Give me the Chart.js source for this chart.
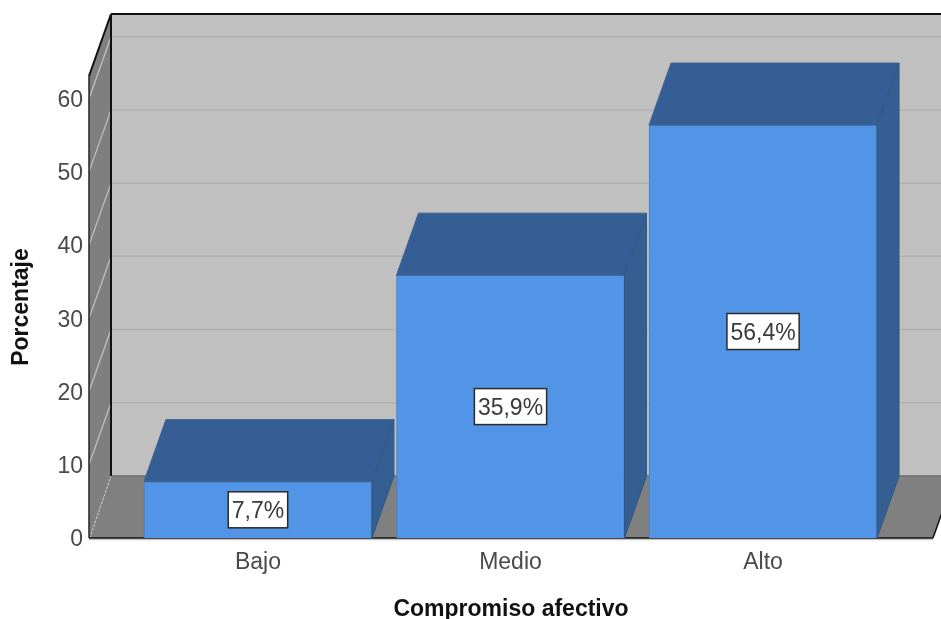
<!DOCTYPE html>
<html>
<head>
<meta charset="utf-8">
<title>Compromiso afectivo</title>
<script src="https://cdn.jsdelivr.net/npm/chart.js@4"></script>
<style>
    html, body { margin: 0; padding: 0; background: #fff; overflow: hidden; }
    canvas { display: block; }
</style>
</head>
<body>
<canvas id="chart" width="941" height="619"></canvas>
<script>
const categories = ['Bajo', 'Medio', 'Alto'];
const percentages = [7.7, 35.9, 56.4];
const yTicks = [0, 10, 20, 30, 40, 50, 60];

const FONT = '"Liberation Sans", Arial, sans-serif';
// Depth of the fake 3D box, in pixels
const DEPTH_X = 22;
const DEPTH_Y = 62;

function polygon(ctx, points, fill, stroke) {
    ctx.beginPath();
    points.forEach((p, i) => i ? ctx.lineTo(p[0], p[1]) : ctx.moveTo(p[0], p[1]));
    ctx.closePath();
    ctx.fillStyle = fill;
    ctx.fill();
    if (stroke) {
        ctx.strokeStyle = stroke;
        ctx.lineWidth = 1;
        ctx.stroke();
    }
}

function line(ctx, x1, y1, x2, y2, color, width, dash) {
    ctx.beginPath();
    ctx.setLineDash(dash || []);
    ctx.moveTo(x1, y1);
    ctx.lineTo(x2, y2);
    ctx.strokeStyle = color;
    ctx.lineWidth = width;
    ctx.stroke();
    ctx.setLineDash([]);
}

// Back wall, side wall and floor
const roomPlugin = {
    id: 'room',
    beforeDatasetsDraw(chart) {
        const ctx = chart.ctx;
        const area = chart.chartArea;
        const y = chart.scales.y;
        const top = y.getPixelForValue(y.max);
        const floor = y.getPixelForValue(0);
        const l = area.left, r = area.right;

        ctx.save();
        polygon(ctx, [[l + DEPTH_X, top - DEPTH_Y], [r + DEPTH_X, top - DEPTH_Y], [r + DEPTH_X, floor - DEPTH_Y], [l + DEPTH_X, floor - DEPTH_Y]], '#c0c0c0');
        polygon(ctx, [[l, top], [l + DEPTH_X, top - DEPTH_Y], [l + DEPTH_X, floor - DEPTH_Y], [l, floor]], '#7f7f7f');
        polygon(ctx, [[l, floor], [l + DEPTH_X, floor - DEPTH_Y], [r + DEPTH_X, floor - DEPTH_Y], [r, floor]], '#808080');

        yTicks.forEach(v => {
            const py = y.getPixelForValue(v);
            if (v === 0) {
                line(ctx, l + 1, py, l + DEPTH_X, py - DEPTH_Y, '#d0d0d0', 1, [2, 2]);
            } else {
                line(ctx, l + DEPTH_X, py - DEPTH_Y, r + DEPTH_X, py - DEPTH_Y, '#b0b0b0', 1.5);
                line(ctx, l, py, l + DEPTH_X, py - DEPTH_Y, '#c4c4c4', 1.2);
            }
        });

        line(ctx, l + DEPTH_X, floor - DEPTH_Y, r + DEPTH_X, floor - DEPTH_Y, '#6e6e6e', 1.5);
        line(ctx, l, top, l, floor, '#222', 1.5);
        line(ctx, l, top, l + DEPTH_X, top - DEPTH_Y, '#111', 2);
        line(ctx, l + DEPTH_X, top - DEPTH_Y, l + DEPTH_X, floor - DEPTH_Y, '#111', 2);
        line(ctx, l + DEPTH_X, top - DEPTH_Y, chart.width, top - DEPTH_Y, '#111', 2);
        line(ctx, r, floor, r + DEPTH_X, floor - DEPTH_Y, '#111', 1.5);
        line(ctx, l, floor + 1.5, r, floor + 1.5, '#c8c8c8', 1.5);
        line(ctx, l, floor, r, floor, '#111', 1.5);
        ctx.restore();
    },
    // Top and side faces of the bars, then the value boxes
    afterDatasetsDraw(chart) {
        const ctx = chart.ctx;
        const bars = chart.getDatasetMeta(0).data;
        ctx.save();
        bars.forEach(bar => {
            const p = bar.getProps(['x', 'y', 'base', 'width'], true);
            const l = p.x - p.width / 2, r = p.x + p.width / 2;
            polygon(ctx, [[l, p.y], [l + DEPTH_X, p.y - DEPTH_Y], [r + DEPTH_X, p.y - DEPTH_Y], [r, p.y]], '#355f94', '#3f638f');
            polygon(ctx, [[r, p.y], [r + DEPTH_X, p.y - DEPTH_Y], [r + DEPTH_X, p.base - DEPTH_Y], [r, p.base]], '#355f92', '#2f5684');
        });

        ctx.font = '23px ' + FONT;
        ctx.textAlign = 'center';
        ctx.textBaseline = 'middle';
        bars.forEach((bar, i) => {
            const p = bar.getProps(['x', 'y', 'base'], true);
            const cy = (p.y + p.base) / 2;
            const text = percentages[i].toFixed(1).replace('.', ',') + '%';
            const w = ctx.measureText(text).width + 7;
            ctx.fillStyle = '#fff';
            ctx.fillRect(p.x - w / 2, cy - 18, w, 36);
            ctx.strokeStyle = '#2b2b2b';
            ctx.lineWidth = 1.5;
            ctx.strokeRect(p.x - w / 2, cy - 18, w, 36);
            ctx.fillStyle = '#3a3a3a';
            ctx.fillText(text, p.x, cy + 2);
        });
        ctx.restore();
    }
};

new Chart(document.getElementById('chart').getContext('2d'), {
    type: 'bar',
    data: {
        datasets: [{
            label: 'Porcentaje',
            data: percentages.map((v, i) => ({ x: i, y: v })),
            backgroundColor: '#5294e6',
            borderColor: '#4a7fc2',
            borderWidth: 1,
            barThickness: 228
        }]
    },
    options: {
        responsive: false,
        animation: false,
        layout: { padding: { top: 76, right: 8, left: 0, bottom: 0 } },
        plugins: {
            legend: { display: false },
            title: { display: false },
            tooltip: { enabled: false }
        },
        scales: {
            x: {
                type: 'linear',
                offset: false,
                min: -0.669,
                max: 2.673,
                afterFit(scale) { scale.height = 81; },
                afterBuildTicks(scale) { scale.ticks = categories.map((c, i) => ({ value: i })); },
                grid: { display: false, drawTicks: false },
                border: { display: false },
                ticks: {
                    padding: 11,
                    maxRotation: 0,
                    color: '#4a4a4a',
                    font: { family: FONT, size: 23 },
                    callback: v => categories[v]
                },
                title: {
                    display: true,
                    text: 'Compromiso afectivo',
                    color: '#111',
                    padding: { top: 0, bottom: -4 },
                    font: { family: FONT, size: 23, weight: 'bold' }
                }
            },
            y: {
                min: 0,
                max: 63.1,
                afterFit(scale) { scale.width = 89; },
                afterBuildTicks(scale) { scale.ticks = yTicks.map(v => ({ value: v })); },
                grid: { display: false, drawTicks: false },
                border: { display: false },
                ticks: {
                    padding: 6,
                    labelOffset: 2,
                    color: '#4a4a4a',
                    font: { family: FONT, size: 23 }
                },
                title: {
                    display: true,
                    text: 'Porcentaje',
                    color: '#111',
                    padding: { top: 8, bottom: 0 },
                    font: { family: FONT, size: 23, weight: 'bold' }
                }
            }
        }
    },
    plugins: [roomPlugin]
});
</script>
</body>
</html>
